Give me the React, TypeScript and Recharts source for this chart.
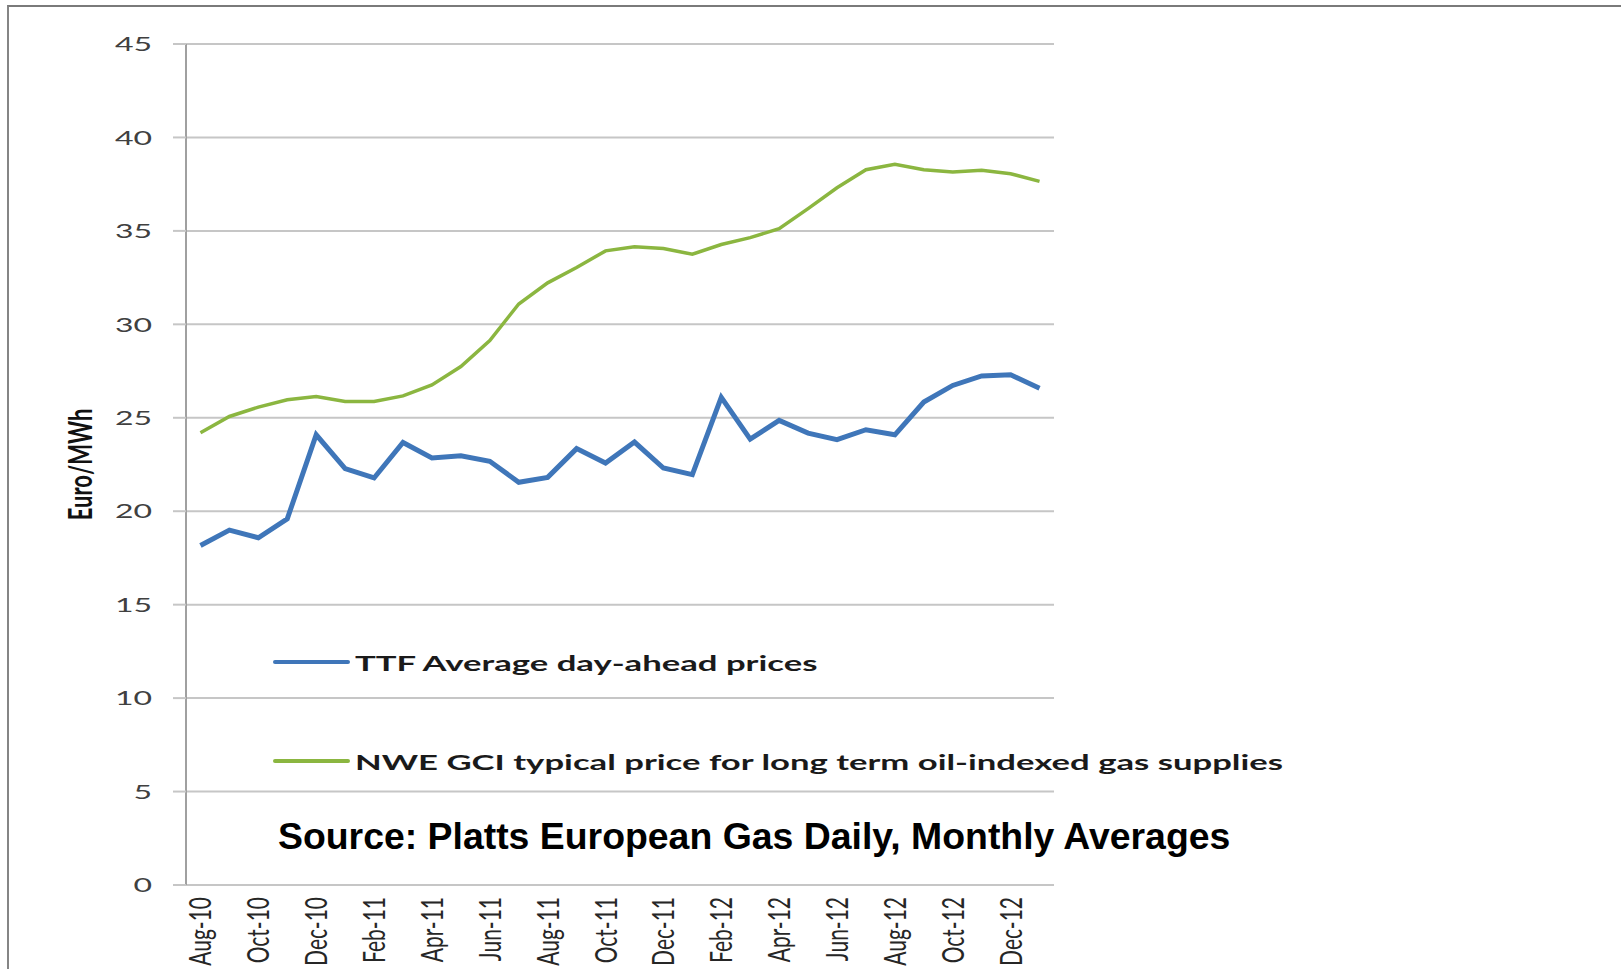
import React from 'react';
import { LineChart, Line, XAxis, YAxis, CartesianGrid, Legend } from 'recharts';

const months = [
  'Aug-10', 'Sep-10', 'Oct-10', 'Nov-10', 'Dec-10',
  'Jan-11', 'Feb-11', 'Mar-11', 'Apr-11', 'May-11', 'Jun-11', 'Jul-11', 'Aug-11', 'Sep-11', 'Oct-11', 'Nov-11', 'Dec-11',
  'Jan-12', 'Feb-12', 'Mar-12', 'Apr-12', 'May-12', 'Jun-12', 'Jul-12', 'Aug-12', 'Sep-12', 'Oct-12', 'Nov-12', 'Dec-12',
  'Jan-13',
];

const ttfPrices = [
  18.17, 18.99, 18.58, 19.59, 24.09,
  22.28, 21.78, 23.68, 22.85, 22.97, 22.67, 21.55, 21.81, 23.35, 22.58, 23.7, 22.31,
  21.96, 26.09, 23.86, 24.86, 24.18, 23.83, 24.36, 24.09, 25.84, 26.73, 27.24, 27.3,
  26.58,
];

const nwePrices = [
  24.2, 25.07, 25.57, 25.96, 26.14,
  25.87, 25.87, 26.17, 26.76, 27.74, 29.13, 31.09, 32.22, 33.04, 33.93, 34.15, 34.06,
  33.75, 34.27, 34.64, 35.12, 36.19, 37.31, 38.27, 38.56, 38.27, 38.15, 38.24, 38.06,
  37.65,
];

const yTicks = [0, 5, 10, 15, 20, 25, 30, 35, 40, 45];
const labelTicks = [0, 2, 4, 6, 8, 10, 12, 14, 16, 18, 20, 22, 24, 26, 28];

const seriesOrder = ['ttf', 'nwe'];
const seriesNames = {
  ttf: 'TTF Average day-ahead prices',
  nwe: 'NWE GCI typical price for long term oil-indexed gas supplies',
};

const sourceText = 'Source: Platts European Gas Daily, Monthly Averages';

const data = months.map((m, i) => ({ idx: i, month: m, ttf: ttfPrices[i], nwe: nwePrices[i] }));
const boundaryTicks = months.map((_, i) => i - 0.5).concat([months.length - 0.5]);
const xDomain: [number, number] = [-0.5, months.length - 0.5];

const BLUE = '#3f76b9';
const GREEN = '#8bb640';
const FONT = 'Lato, "Open Sans", sans-serif';

const YTick = (props: any) => {
  const { x, y, payload } = props;
  return (
    <text
      transform={`translate(${x},${y}) scale(1.6,1)`}
      textAnchor="end"
      dy="0.36em"
      fontFamily={FONT}
      fontSize={20}
      fill="#404040"
    >
      {payload.value}
    </text>
  );
};

const XTick = (props: any) => {
  const { x, y, payload } = props;
  return (
    <text
      transform={`translate(${x},${y}) scale(1.45,1) rotate(-90)`}
      textAnchor="end"
      dy="0.36em"
      fontFamily={FONT}
      fontSize={21}
      fill="#262626"
    >
      {months[payload.value]}
    </text>
  );
};

const YLabel = (props: any) => {
  const { viewBox } = props;
  const cy = viewBox.y + viewBox.height / 2;
  return (
    <text
      transform={`translate(${viewBox.x + 92},${cy}) scale(1.5,1) rotate(-90)`}
      textAnchor="middle"
      fontFamily={FONT}
      fontWeight={700}
      fontSize={22}
      fill="#111"
    >
      Euro/MWh
    </text>
  );
};

const LegendContent = (props: any) => {
  const payload = [...(props.payload || [])].sort(
    (a: any, b: any) => seriesOrder.indexOf(a.dataKey) - seriesOrder.indexOf(b.dataKey)
  );
  return (
    <div style={{ display: 'flex', flexDirection: 'column' }}>
      {payload.map((entry: any, i: number) => (
        <div
          key={entry.value}
          style={{ display: 'flex', alignItems: 'center', height: 40, marginBottom: i === 0 ? 59 : 0 }}
        >
          <span
            style={{
              display: 'inline-block',
              width: 77,
              height: entry.dataKey === 'ttf' ? 4 : 3.5,
              background: entry.color,
              borderRadius: 2,
            }}
          />
          <span
            style={{
              marginLeft: 5,
              display: 'inline-block',
              transform: 'scaleX(1.65)',
              transformOrigin: 'left center',
              fontFamily: FONT,
              fontWeight: 700,
              fontSize: 21,
              whiteSpace: 'nowrap',
              color: '#1a1a1a',
            }}
          >
            {entry.value}
          </span>
        </div>
      ))}
    </div>
  );
};

export default function App() {
  return (
    <div style={{ position: 'relative', width: 1621, height: 969, overflow: 'hidden', background: '#fff' }}>
      <style>{'body{margin:0;background:#fff;}'}</style>
      <div
        style={{
          position: 'absolute',
          left: 7,
          top: 5,
          right: -10,
          bottom: -10,
          borderLeft: '2px solid #858585',
          borderTop: '2px solid #7a7a7a',
        }}
      />
      <div style={{ position: 'absolute', left: 0, top: 0 }}>
        <LineChart width={1621} height={969} data={data} margin={{ top: 44, right: 567, bottom: 0, left: 0 }}>
          <CartesianGrid xAxisId="b" horizontal vertical={false} stroke="#c6c6c6" strokeWidth={2} />
          <XAxis
            xAxisId="b"
            dataKey="idx"
            type="number"
            domain={xDomain}
            ticks={boundaryTicks}
            interval={0}
            tick={false}
            tickSize={8}
            height={0}
            axisLine={{ stroke: '#b0b0b0', strokeWidth: 2 }}
            tickLine={{ stroke: '#a8a8a8', strokeWidth: 1.5 }}
          />
          <XAxis
            xAxisId="m"
            dataKey="idx"
            type="number"
            domain={xDomain}
            ticks={labelTicks}
            interval={0}
            tick={<XTick />}
            tickLine={false}
            axisLine={false}
            tickSize={0}
            tickMargin={12}
            height={84}
          />
          <YAxis
            domain={[0, 45]}
            ticks={yTicks}
            interval={0}
            width={186}
            tickSize={13}
            tickMargin={21}
            tick={<YTick />}
            axisLine={{ stroke: '#a0a0a0', strokeWidth: 2 }}
            tickLine={{ stroke: '#c6c6c6', strokeWidth: 2 }}
            label={{ content: <YLabel /> } as any}
          />
          <Legend
            layout="horizontal"
            verticalAlign="middle"
            align="center"
            content={<LegendContent />}
            wrapperStyle={{ left: 273, top: 642, width: 1200 }}
          />
          <Line
            xAxisId="m"
            type="linear"
            dataKey="ttf"
            name={seriesNames.ttf}
            stroke={BLUE}
            strokeWidth={5}
            dot={false}
            isAnimationActive={false}
          />
          <Line
            xAxisId="m"
            type="linear"
            dataKey="nwe"
            name={seriesNames.nwe}
            stroke={GREEN}
            strokeWidth={3.5}
            dot={false}
            isAnimationActive={false}
          />
        </LineChart>
      </div>
      <div
        style={{
          position: 'absolute',
          left: 278,
          top: 818,
          fontFamily: '"Liberation Sans", Arial, sans-serif',
          fontWeight: 700,
          fontSize: 37.4,
          lineHeight: '37px',
          whiteSpace: 'nowrap',
          color: '#000',
        }}
      >
        {sourceText}
      </div>
    </div>
  );
}
